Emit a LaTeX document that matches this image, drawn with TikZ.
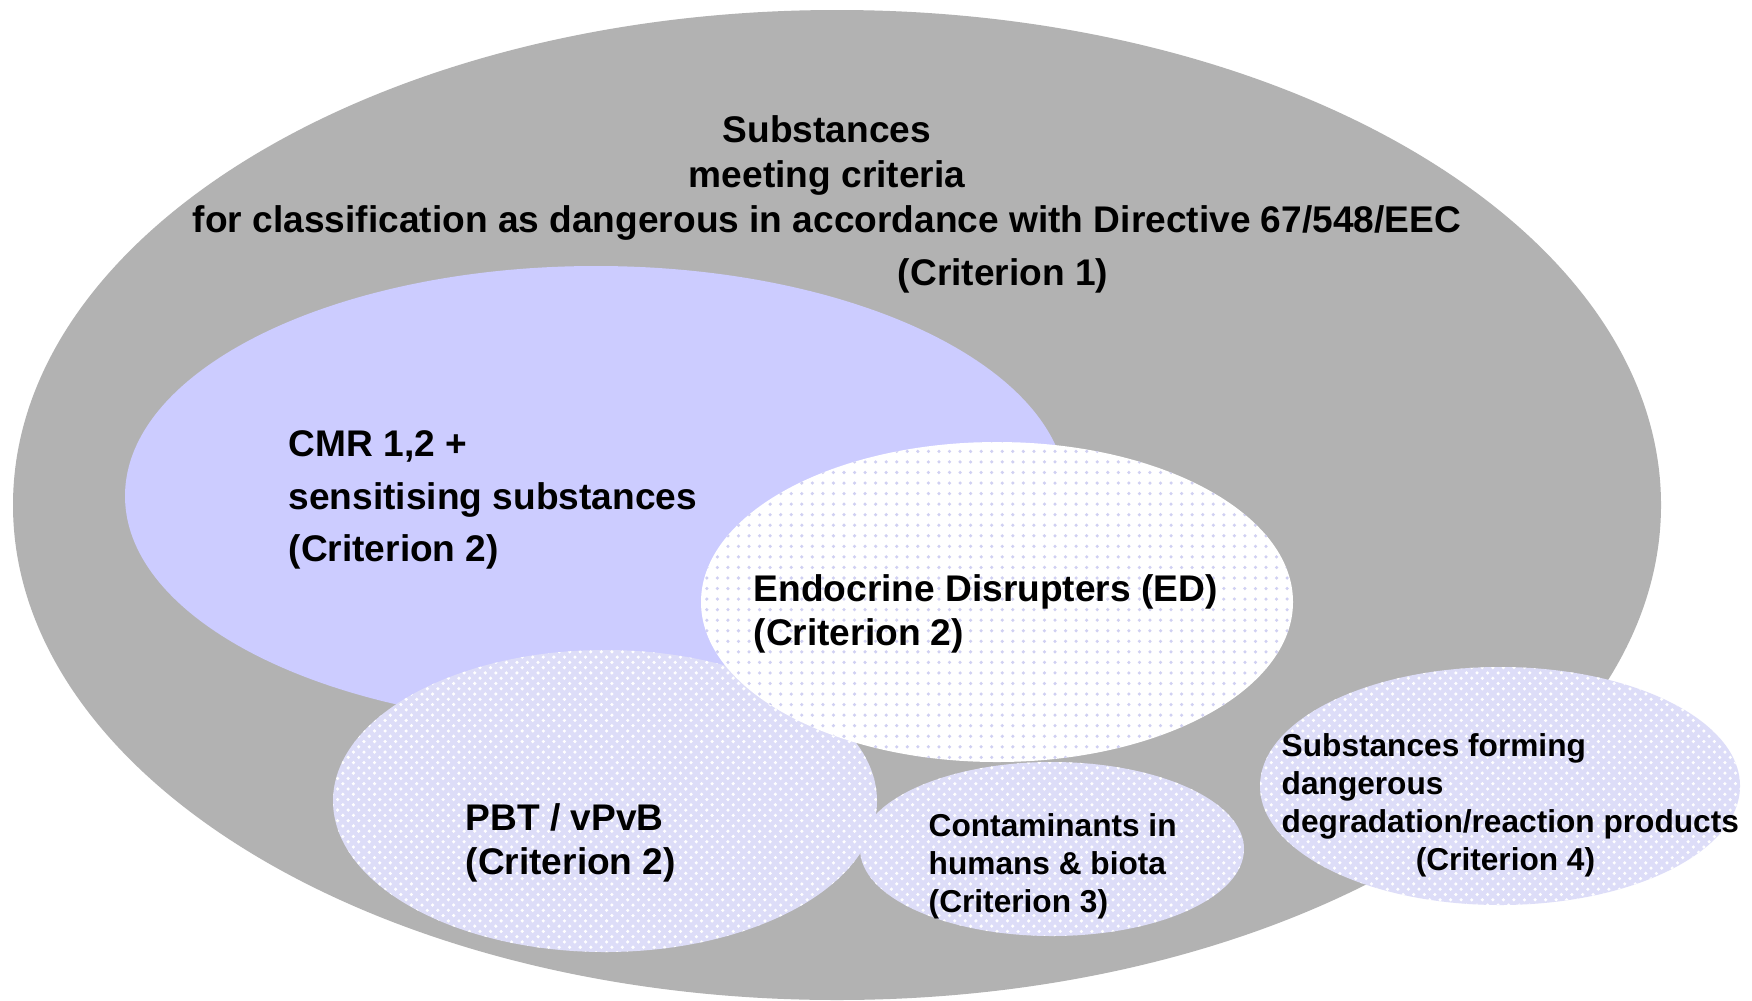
\documentclass[tikz,border=0pt]{standalone}
\usepackage{fontspec}
\setmainfont{Liberation Sans}
\usepackage{xcolor}
\usetikzlibrary{patterns}
\definecolor{outergray}{HTML}{B2B2B2}
\definecolor{cmrblue}{HTML}{CCCCFF}
\definecolor{paleblue}{HTML}{DDDDF8}
\definecolor{dotblue}{HTML}{D0D0F2}

\begin{document}
\begin{tikzpicture}[
  x=0.01cm, y=-0.01cm,
  txt/.style={inner sep=0pt, align=left, font=\bfseries\fontsize{10.55}{12.7}\selectfont},
  smalltxt/.style={inner sep=0pt, align=left, font=\bfseries\fontsize{9}{10.8}\selectfont},
  hatched/.style={fill=paleblue, postaction={pattern=crosshatch dots, pattern color=white}},
  dotted/.style={fill=white, postaction={pattern=dots, pattern color=dotblue}}
]
\useasboundingbox (0,0) rectangle (1752,1000);
\fill[white] (0,0) rectangle (1752,1000);

% sets
\fill[outergray] (837,505) ellipse [x radius=824, y radius=495];
\fill[cmrblue] (596,496) ellipse [x radius=471, y radius=230];
\fill[hatched] (605,801) ellipse [x radius=272, y radius=151];
\fill[dotted] (997,602) ellipse [x radius=296, y radius=160];
\fill[hatched] (1052,849) ellipse [x radius=192, y radius=87];
\fill[hatched] (1500,786) ellipse [x radius=240, y radius=119];

% labels
\node[txt, align=center] (title) at (827,178) {Substances\\ meeting criteria\\ for classification as dangerous in accordance with Directive 67/548/EEC};
\node[txt] (crit1) at (1003,276) {(Criterion 1)};
\node[txt, anchor=west, font=\bfseries\fontsize{10.55}{14.9}\selectfont] (cmr) at (288,500) {CMR 1,2 +\\ sensitising substances\\ (Criterion 2)};
\node[txt, anchor=west] (ed) at (753,614) {Endocrine Disrupters (ED)\\ (Criterion 2)};
\node[txt, anchor=west] (pbt) at (465,843) {PBT / vPvB\\ (Criterion 2)};
\node[smalltxt, anchor=west] (contam) at (928,866) {Contaminants in\\ humans \& biota\\ (Criterion 3)};
\node[smalltxt, anchor=west] (degrad) at (1281,805) {Substances forming\\ dangerous\\ degradation/reaction products\\ \hspace*{1.34cm}(Criterion 4)};
\end{tikzpicture}
\end{document}
